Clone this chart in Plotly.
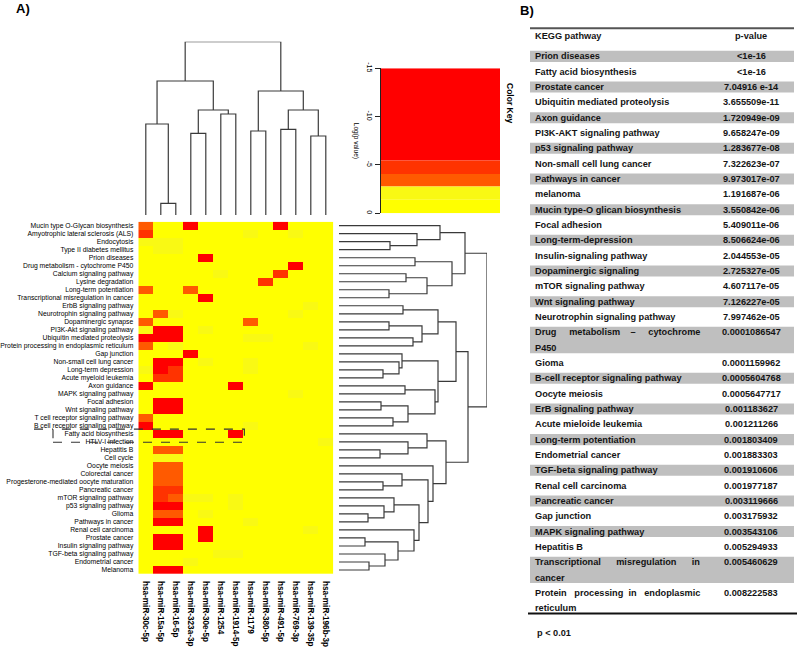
import plotly.graph_objects as go

W, H = 800, 656
FONT = "Liberation Sans, Arial, sans-serif"
LINE_C = "#3a3a3a"

# ---------------- data ----------------
MIRNAS = ["hsa-miR-30c-5p", "hsa-miR-15a-5p", "hsa-miR-16-5p", "hsa-miR-323a-3p",
          "hsa-miR-30e-5p", "hsa-miR-1254", "hsa-miR-1914-5p", "hsa-miR-1179",
          "hsa-miR-380-5p", "hsa-miR-491-5p", "hsa-miR-769-3p", "hsa-miR-139-35p",
          "hsa-miR-196b-3p"]

PATHWAYS = ["Mucin type O-Glycan biosynthesis", "Amyotrophic lateral sclerosis (ALS)",
            "Endocytosis", "Type II diabetes mellitus", "Prion diseases",
            "Drug metabolism - cytochrome P450", "Calcium signaling pathway",
            "Lysine degradation", "Long-term potentiation",
            "Transcriptional misregulation in cancer", "ErbB signaling pathway",
            "Neurotrophin signaling pathway", "Dopaminergic synapse",
            "PI3K-Akt signaling pathway", "Ubiquitin mediated proteolysis",
            "Protein processing in endoplasmic reticulum", "Gap junction",
            "Non-small cell lung cancer", "Long-term depression", "Acute myeloid leukemia",
            "Axon guidance", "MAPK signaling pathway", "Focal adhesion",
            "Wnt signaling pathway", "T cell receptor signaling pathway",
            "B cell receptor signaling pathway", "Fatty acid biosynthesis",
            "HTLV-I infection", "Hepatitis B", "Cell cycle", "Oocyte meiosis",
            "Colorectal cancer", "Progesterone-mediated oocyte maturation",
            "Pancreatic cancer", "mTOR signaling pathway", "p53 signaling pathway",
            "Glioma", "Pathways in cancer", "Renal cell carcinoma", "Prostate cancer",
            "Insulin signaling pathway", "TGF-beta signaling pathway",
            "Endometrial cancer", "Melanoma"]

# log(p value) per pathway (rows) x miRNA (columns)
LOGP = [
    [-3.4, -0.4, -0.4, -7.2, -0.4, -0.4, -0.4, -0.4, -0.4, -6.8, -0.4, -0.4, -0.4],
    [-5.0, -0.4, -0.4, -0.4, -0.4, -0.4, -0.4, -2.0, -0.4, -0.4, -2.0, -0.4, -0.4],
    [-2.0, -2.0, -2.0, -0.4, -0.4, -0.4, -0.4, -0.4, -0.4, -0.4, -0.4, -0.4, -0.4],
    [-0.4, -2.0, -2.0, -0.4, -0.4, -0.4, -0.4, -0.4, -0.4, -0.4, -0.4, -0.4, -0.4],
    [-0.4, -0.4, -0.4, -0.4, -15.0, -0.4, -0.4, -0.4, -0.4, -0.4, -0.4, -0.4, -0.4],
    [-0.4, -0.4, -0.4, -0.4, -0.4, -0.4, -0.4, -0.4, -0.4, -0.4, -9.1, -0.4, -0.4],
    [-0.4, -0.4, -0.4, -0.4, -0.4, -2.0, -0.4, -0.4, -0.4, -5.0, -0.4, -0.4, -0.4],
    [-0.4, -0.4, -0.4, -0.4, -0.4, -0.4, -0.4, -0.4, -4.8, -0.4, -0.4, -0.4, -0.4],
    [-3.4, -0.4, -0.4, -3.4, -0.4, -0.4, -0.4, -0.4, -0.4, -0.4, -0.4, -0.4, -0.4],
    [-0.4, -0.4, -0.4, -0.4, -6.5, -0.4, -0.4, -0.4, -0.4, -0.4, -0.4, -0.4, -0.4],
    [-0.4, -0.4, -0.4, -0.4, -0.4, -0.4, -0.4, -0.4, -0.4, -0.4, -0.4, -2.0, -0.4],
    [-0.4, -3.4, -2.0, -0.4, -0.4, -0.4, -0.4, -0.4, -0.4, -0.4, -2.0, -0.4, -0.4],
    [-3.4, -0.4, -0.4, -0.4, -0.4, -0.4, -0.4, -3.4, -0.4, -0.4, -0.4, -0.4, -0.4],
    [-2.0, -7.5, -7.0, -0.4, -2.0, -0.4, -0.4, -0.4, -0.4, -0.4, -0.4, -0.4, -0.4],
    [-7.0, -8.0, -7.5, -0.4, -0.4, -0.4, -0.4, -2.0, -2.0, -0.4, -0.4, -0.4, -0.4],
    [-3.4, -0.4, -2.0, -0.4, -0.4, -0.4, -0.4, -0.4, -0.4, -0.4, -0.4, -2.0, -0.4],
    [-0.4, -0.4, -0.4, -6.5, -0.4, -0.4, -0.4, -0.4, -0.4, -0.4, -0.4, -0.4, -0.4],
    [-0.4, -7.5, -7.0, -0.4, -2.0, -0.4, -0.4, -2.0, -0.4, -0.4, -0.4, -0.4, -0.4],
    [-2.0, -6.5, -5.0, -0.4, -0.4, -0.4, -0.4, -2.0, -0.4, -0.4, -0.4, -0.4, -0.4],
    [-0.4, -4.5, -4.5, -0.4, -0.4, -0.4, -0.4, -0.4, -0.4, -0.4, -0.4, -0.4, -0.4],
    [-7.0, -0.4, -0.4, -0.4, -0.4, -0.4, -7.0, -0.4, -0.4, -0.4, -0.4, -0.4, -0.4],
    [-0.4, -0.4, -0.4, -0.4, -0.4, -0.4, -0.4, -0.4, -0.4, -0.4, -2.0, -0.4, -0.4],
    [-0.4, -7.0, -6.5, -0.4, -0.4, -0.4, -0.4, -0.4, -0.4, -0.4, -0.4, -0.4, -0.4],
    [-0.4, -6.8, -6.2, -0.4, -0.4, -0.4, -0.4, -0.4, -0.4, -0.4, -0.4, -0.4, -0.4],
    [-3.6, -0.4, -0.4, -0.4, -0.4, -0.4, -0.4, -0.4, -0.4, -0.4, -0.4, -0.4, -0.4],
    [-8.0, -0.4, -0.4, -0.4, -0.4, -0.4, -0.4, -2.0, -0.4, -0.4, -0.4, -0.4, -0.4],
    [-0.4, -7.0, -7.0, -0.4, -0.4, -0.4, -15.0, -0.4, -0.4, -0.4, -0.4, -0.4, -0.4],
    [-0.4, -0.4, -0.4, -0.4, -0.4, -0.4, -0.4, -0.4, -0.4, -0.4, -0.4, -0.4, -2.0],
    [-0.4, -3.5, -3.5, -0.4, -0.4, -0.4, -0.4, -0.4, -0.4, -0.4, -0.4, -0.4, -0.4],
    [-0.4, -2.0, -2.0, -0.4, -0.4, -0.4, -0.4, -0.4, -0.4, -0.4, -0.4, -0.4, -0.4],
    [-0.4, -3.6, -3.6, -0.4, -0.4, -0.4, -0.4, -0.4, -0.4, -0.4, -0.4, -0.4, -0.4],
    [-0.4, -3.5, -3.5, -0.4, -0.4, -0.4, -0.4, -0.4, -0.4, -0.4, -0.4, -0.4, -0.4],
    [-0.4, -3.4, -3.4, -0.4, -0.4, -0.4, -0.4, -0.4, -0.4, -0.4, -0.4, -0.4, -0.4],
    [-0.4, -5.0, -5.0, -0.4, -0.4, -0.4, -0.4, -0.4, -0.4, -0.4, -0.4, -0.4, -0.4],
    [-0.4, -5.0, -3.6, -2.0, -2.0, -0.4, -2.0, -0.4, -0.4, -0.4, -0.4, -0.4, -0.4],
    [-0.4, -7.0, -6.8, -0.4, -0.4, -0.4, -2.0, -0.4, -0.4, -0.4, -0.4, -0.4, -0.4],
    [-0.4, -3.6, -3.6, -0.4, -2.0, -0.4, -0.4, -0.4, -0.4, -0.4, -0.4, -0.4, -0.4],
    [-0.4, -6.8, -6.8, -0.4, -0.4, -0.4, -0.4, -2.0, -0.4, -0.4, -0.4, -0.4, -0.4],
    [-0.4, -0.4, -0.4, -0.4, -6.5, -0.4, -0.4, -0.4, -0.4, -0.4, -0.4, -2.0, -0.4],
    [-0.4, -8.0, -7.5, -0.4, -7.0, -0.4, -0.4, -0.4, -0.4, -0.4, -0.4, -0.4, -0.4],
    [-0.4, -7.0, -6.5, -0.4, -0.4, -0.4, -0.4, -0.4, -0.4, -0.4, -0.4, -0.4, -0.4],
    [-0.4, -0.4, -0.4, -0.4, -0.4, -2.0, -2.0, -0.4, -0.4, -0.4, -0.4, -0.4, -0.4],
    [-0.4, -0.4, -0.4, -2.0, -0.4, -0.4, -0.4, -0.4, -0.4, -0.4, -0.4, -0.4, -0.4],
    [-0.4, -7.0, -7.0, -0.4, -0.4, -0.4, -0.4, -0.4, -0.4, -0.4, -0.4, -0.4, -0.4],
]

# column (miRNA) clustering: [child_a, child_b, height]; new cluster ids start at 13
COL_MERGES = [[1, 2, 11.7], [0, 13, 91.0], [3, 4, 81.7], [5, 6, 101.0], [15, 16, 105.0],
              [14, 17, 134.0], [7, 8, 84.0], [9, 10, 85.7], [11, 12, 79.0], [20, 21, 105.0],
              [19, 22, 124.0], [18, 23, 173.3]]

# row (pathway) clustering: [child_a, child_b, height]; new cluster ids start at 44
ROW_MERGES = [[2, 3, 51], [1, 44, 78], [0, 45, 101], [4, 5, 76], [6, 7, 67], [8, 9, 50],
              [48, 49, 88], [47, 50, 113], [46, 51, 126], [10, 11, 64], [12, 13, 50],
              [14, 15, 74], [54, 55, 83], [53, 56, 99], [18, 19, 44], [17, 58, 60],
              [16, 59, 63], [20, 21, 66], [22, 23, 42], [24, 25, 54], [62, 63, 69],
              [61, 64, 96], [60, 65, 99], [57, 66, 117], [28, 29, 41], [27, 68, 69],
              [26, 69, 88], [32, 33, 44], [31, 71, 63], [36, 37, 29], [35, 73, 45],
              [34, 74, 55], [39, 40, 26], [42, 43, 30], [41, 77, 46], [76, 78, 59],
              [38, 79, 75], [75, 80, 80], [72, 81, 89], [30, 82, 94], [70, 83, 107],
              [67, 84, 129], [52, 85, 148]]

KEY_BREAKS = [-15, -5.45, -4.07, -2.76, -1.4, 0]
KEY_COLORS = ["#FF0000", "#FF3300", "#FF5A00", "#F9F914", "#FFFF00"]
KEY_TICKS = [0, -5, -10, -15]

KEGG = ["Prion diseases", "Fatty acid biosynthesis", "Prostate cancer",
        "Ubiquitin mediated proteolysis", "Axon guidance", "PI3K-AKT signaling pathway",
        "p53 signaling pathway", "Non-small cell lung cancer", "Pathways in cancer",
        "melanoma", "Mucin type-O glican biosynthesis", "Focal adhesion",
        "Long-term-depression", "Insulin-signaling pathway", "Dopaminergic signaling",
        "mTOR signaling pathway", "Wnt signaling pathway", "Neurotrophin signaling pathway",
        "Drug metabolism \u2013 cytochrome\nP450", "Gioma",
        "B-cell receptor signaling pathway", "Oocyte meiosis", "ErB signaling pathway",
        "Acute mieloide leukemia", "Long-term potentiation", "Endometrial cancer",
        "TGF-beta signaling pathway", "Renal cell carcinoma", "Pancreatic cancer",
        "Gap junction", "MAPK signaling pathway", "Hepatitis B",
        "Transcriptional misregulation in\ncancer",
        "Protein processing in endoplasmic\nreticulum"]
PVALUES = ["<1e-16", "<1e-16", "7.04916 e-14", "3.655509e-11", "1.720949e-09",
           "9.658247e-09", "1.283677e-08", "7.322623e-07", "9.973017e-07", "1.191687e-06",
           "3.550842e-06", "5.409011e-06", "8.506624e-06", "2.044553e-05", "2.725327e-05",
           "4.607117e-05", "7.126227e-05", "7.997462e-05", "0.0001086547", "0.0001159962",
           "0.0005604768", "0.0005647717", "0.001183627", "0.001211266", "0.001803409",
           "0.001883303", "0.001910606", "0.001977187", "0.003119666", "0.003175932",
           "0.003543106", "0.005294933", "0.005460629", "0.008222583"]

# ---------------- helpers ----------------
def discrete_scale(breaks, colors):
    lo, hi = breaks[0], breaks[-1]
    cs = []
    for i, c in enumerate(colors):
        cs.append([(breaks[i] - lo) / (hi - lo), c])
        cs.append([(breaks[i + 1] - lo) / (hi - lo), c])
    return cs


def dendro_segments(merges, n):
    pos = {i: float(i) for i in range(n)}
    hgt = {i: 0.0 for i in range(n)}
    ps, hs = [], []
    for k, (a, b, h) in enumerate(merges):
        ps += [pos[a], pos[a], pos[b], pos[b], None]
        hs += [hgt[a], h, h, hgt[b], None]
        pos[n + k] = (pos[a] + pos[b]) / 2.0
        hgt[n + k] = h
    return ps, hs


def px(x):
    return x / W


def py(y):
    return 1 - y / H


# layout geometry (pixels)
HM_L, HM_R, HM_T, HM_B = 138.3, 333.3, 221.7, 574.0
CD_T, CD_B = 41.7, 215.0          # column dendrogram
RD_L = 339.0                      # row dendrogram leaves
KEY_L, KEY_R, KEY_T, KEY_B = 381.0, 500.0, 68.3, 213.3
TB_FIRST, TB_PITCH = 48.7, 15.33  # table rows

n_rows, n_cols = len(PATHWAYS), len(MIRNAS)
row_h_px = (HM_B - HM_T) / n_rows
col_w_px = (HM_R - HM_L) / n_cols

fig = go.Figure()

# heatmap
fig.add_trace(go.Heatmap(
    z=LOGP, x=list(range(n_cols)), y=list(range(n_rows)),
    colorscale=discrete_scale(KEY_BREAKS, KEY_COLORS),
    zmin=KEY_BREAKS[0], zmax=KEY_BREAKS[-1], showscale=False,
    xaxis="x", yaxis="y", hoverinfo="skip"))

# column dendrogram
cp, ch = dendro_segments(COL_MERGES, n_cols)
col_root = max(m[2] for m in COL_MERGES)
fig.add_trace(go.Scatter(x=cp, y=ch, mode="lines", line=dict(color=LINE_C, width=1.2),
                         xaxis="x2", yaxis="y2", hoverinfo="skip"))

# row dendrogram
rp, rh = dendro_segments(ROW_MERGES, n_rows)
row_root = max(m[2] for m in ROW_MERGES)
fig.add_trace(go.Scatter(x=rh, y=rp, mode="lines", line=dict(color=LINE_C, width=1.2),
                         xaxis="x3", yaxis="y3", hoverinfo="skip"))

# colour key
fig.add_trace(go.Bar(
    x=[0] * len(KEY_COLORS),
    y=[KEY_BREAKS[i + 1] - KEY_BREAKS[i] for i in range(len(KEY_COLORS))],
    base=KEY_BREAKS[:-1], width=1,
    marker=dict(color=KEY_COLORS, line=dict(width=0)),
    xaxis="x4", yaxis="y4", hoverinfo="skip"))

# table
n_lines = [len(k.split("\n")) for k in KEGG]
starts = []
acc = 0
for n in n_lines:
    starts.append(acc)
    acc += n
TB_X0, TB_X1 = 530.0, 794.0
gray_idx = [i for i in range(len(KEGG)) if i % 2 == 0]
fig.add_trace(go.Bar(
    orientation="h",
    y=[starts[i] + n_lines[i] / 2 for i in gray_idx],
    x=[TB_X1 - TB_X0] * len(gray_idx),
    base=[TB_X0] * len(gray_idx),
    width=[n_lines[i] - 0.28 for i in gray_idx],
    marker=dict(color="#BFBFBF", line=dict(width=0)),
    xaxis="x5", yaxis="y5", hoverinfo="skip"))

JUSTIFY = {18: [4, 3, 4], 32: [5, 5], 33: [2, 1, 2]}
NB = "\u00a0"

ann = []
TF = dict(family=FONT, size=9.2, color="#141414")
for i, name in enumerate(KEGG):
    lines = name.split("\n")
    for j, line in enumerate(lines):
        if j == 0 and i in JUSTIFY:
            words = line.split(" ")
            out = words[0]
            for w, pad in zip(words[1:], JUSTIFY[i]):
                out += " " + NB * pad + w
            line = out
        ann.append(dict(x=533, y=starts[i] + j + 0.5, xref="x5", yref="y5", text="<b>%s</b>" % line,
                        showarrow=False, xanchor="left", yanchor="middle", font=TF))
    ann.append(dict(x=751, y=starts[i] + 0.5, xref="x5", yref="y5", text="<b>%s</b>" % PVALUES[i],
                    showarrow=False, xanchor="center", yanchor="middle", font=TF))


def tb_u(ypix):
    return (ypix - TB_FIRST) / TB_PITCH


ann.append(dict(x=533, y=tb_u(35.5), xref="x5", yref="y5", text="<b>KEGG pathway</b>",
                showarrow=False, xanchor="left", yanchor="middle", font=TF))
ann.append(dict(x=751, y=tb_u(35.5), xref="x5", yref="y5", text="<b>p-value</b>",
                showarrow=False, xanchor="center", yanchor="middle", font=TF))
ann.append(dict(x=535, y=tb_u(632.7), xref="x5", yref="y5", text="<b>p &lt; 0.01</b>",
                showarrow=False, xanchor="left", yanchor="middle", font=TF))

# panel labels etc.
ann.append(dict(x=px(14), y=py(9), xref="paper", yref="paper", text="<b>A)</b>",
                showarrow=False, xanchor="left", yanchor="middle",
                font=dict(family=FONT, size=13, color="black")))
ann.append(dict(x=px(518), y=py(11), xref="paper", yref="paper", text="<b>B)</b>",
                showarrow=False, xanchor="left", yanchor="middle",
                font=dict(family=FONT, size=13, color="black")))
ann.append(dict(x=px(510), y=py(103), xref="paper", yref="paper", text="<b>Color Key</b>",
                showarrow=False, textangle=90, xanchor="center", yanchor="middle",
                font=dict(family=FONT, size=8.5, color="black")))
ann.append(dict(x=px(356), y=py((KEY_T + KEY_B) / 2), xref="paper", yref="paper",
                text="Log(p value)", showarrow=False, textangle=90,
                xanchor="center", yanchor="middle",
                font=dict(family=FONT, size=6.5, color="black")))

shapes = [
    dict(type="line", xref="x5", yref="y5", x0=TB_X0, x1=TB_X1, y0=tb_u(28.3), y1=tb_u(28.3),
         line=dict(color="#555555", width=2)),
    dict(type="line", xref="x5", yref="y5", x0=528, x1=797, y0=tb_u(613.5), y1=tb_u(613.5),
         line=dict(color="#111111", width=2)),
]

# dashed highlight around "Fatty acid biosynthesis"
hl_row = PATHWAYS.index("Fatty acid biosynthesis")
hl_col = MIRNAS.index("hsa-miR-1914-5p")
y_top = HM_T + (hl_row - 0.1) * row_h_px
y_bot = HM_T + (hl_row + 1.55) * row_h_px
x_right = HM_L + (hl_col + 1.07) * col_w_px
dash = dict(color="#333333", width=1.1, dash="dash")
shapes.append(dict(type="rect", xref="paper", yref="paper", x0=px(53), x1=px(x_right),
                   y0=py(y_bot), y1=py(y_top), line=dash))
shapes.append(dict(type="line", xref="paper", yref="paper", x0=px(34), x1=px(53),
                   y0=py(y_top), y1=py(y_top), line=dash))

hidden = dict(visible=False, showgrid=False, zeroline=False, fixedrange=True)

fig.update_layout(
    width=W, height=H, margin=dict(l=0, r=0, t=0, b=0),
    paper_bgcolor="white", plot_bgcolor="rgba(0,0,0,0)",
    showlegend=False, template="none", font=dict(family=FONT),
    annotations=ann, shapes=shapes,
    xaxis=dict(domain=[px(HM_L), px(HM_R)], range=[-0.5, n_cols - 0.5], anchor="y",
               tickmode="array", tickvals=list(range(n_cols)), ticktext=MIRNAS,
               tickangle=90, ticks="", showgrid=False, zeroline=False, showline=False,
               ticklabelstandoff=6,
               tickfont=dict(family=FONT, size=8.2, color="black", weight="bold")),
    yaxis=dict(domain=[py(HM_B), py(HM_T)], range=[n_rows - 0.5, -0.5], anchor="x",
               tickmode="array", tickvals=list(range(n_rows)), ticktext=PATHWAYS,
               ticks="", showgrid=False, zeroline=False, showline=False,
               ticklabelstandoff=4,
               tickfont=dict(family=FONT, size=6.8, color="black")),
    xaxis2=dict(domain=[px(HM_L), px(HM_R)], range=[-0.5, n_cols - 0.5], anchor="y2", **hidden),
    yaxis2=dict(domain=[py(CD_B), py(CD_T)], range=[0, col_root], anchor="x2", **hidden),
    xaxis3=dict(domain=[px(RD_L), px(RD_L + row_root)], range=[0, row_root], anchor="y3", **hidden),
    yaxis3=dict(domain=[py(HM_B), py(HM_T)], range=[n_rows - 0.5, -0.5], anchor="x3", **hidden),
    xaxis4=dict(domain=[px(KEY_L), px(KEY_R)], range=[-0.5, 0.5], anchor="y4", **hidden),
    yaxis4=dict(domain=[py(KEY_B), py(KEY_T)], range=[KEY_BREAKS[-1], KEY_BREAKS[0]],
                anchor="x4", tickmode="array", tickvals=KEY_TICKS,
                ticktext=[str(t) for t in KEY_TICKS], tickangle=90,
                ticks="outside", ticklen=5, tickcolor="#222", showline=True,
                linecolor="#222", linewidth=1, showgrid=False, zeroline=False,
                tickfont=dict(family=FONT, size=7, color="black")),
    xaxis5=dict(domain=[0, 1], range=[0, W], anchor="y5", **hidden),
    yaxis5=dict(domain=[0, 1], range=[tb_u(H), tb_u(0)], anchor="x5", **hidden),
)

fig.write_html("out.html", config={"displayModeBar": False},
               post_script="document.body.style.margin='0px';document.body.style.overflow='hidden';")
